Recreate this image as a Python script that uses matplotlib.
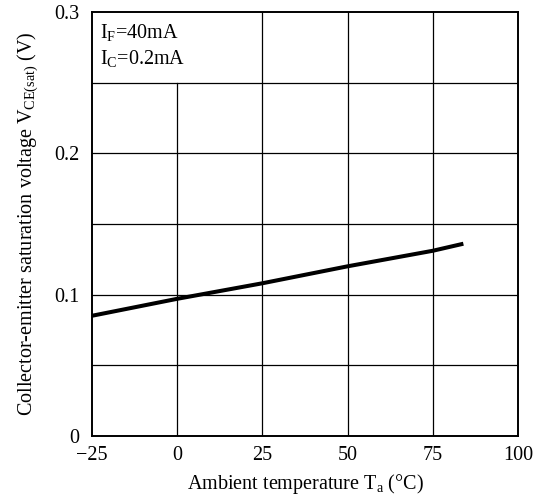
import numpy as np
import matplotlib.pyplot as plt

plt.rcParams['font.family'] = ['Liberation Serif', 'DejaVu Serif']
plt.rcParams['mathtext.fontset'] = 'custom'
plt.rcParams['mathtext.rm'] = 'Liberation Serif'
plt.rcParams['mathtext.it'] = 'Liberation Serif'

# data
temps = [-25, 0, 25, 50, 75, 84]
vce_sat = [0.085, 0.097, 0.108, 0.120, 0.131, 0.136]

x_ticks = [-25, 0, 25, 50, 75, 100]
x_labels = ['\u221225', '0', '25', '50', '75', '100']
y_ticks = [0, 0.1, 0.2, 0.3]
y_labels = ['0', '0.1', '0.2', '0.3']
y_grid = [0.05, 0.1, 0.15, 0.2, 0.25]

fs = 14.5

fig = plt.figure(figsize=(5.44, 5.01), dpi=100)
ax = fig.add_axes([0.169, 0.13, 0.783, 0.846])
ax.set_xlim(-25, 100)
ax.set_ylim(0, 0.3)

# grid, x=0 line stops under the condition box
for xv in x_ticks[1:-1]:
    top = 0.25 if xv == 0 else 0.3
    ax.plot([xv, xv], [0, top], color='black', lw=0.9, zorder=1)
for yv in y_grid:
    ax.plot([-25, 100], [yv, yv], color='black', lw=0.9, zorder=1)

ax.plot(temps, vce_sat, color='black', lw=2.9, solid_capstyle='butt', zorder=3)

ax.text(-22.5, 0.2855, r'$\mathrm{I_F}$=40mA', fontsize=fs, va='center')
ax.text(-22.5, 0.2668, r'$\mathrm{I_C}$=0.2mA', fontsize=fs, va='center')

ax.set_xticks(x_ticks)
ax.set_xticklabels(x_labels, fontsize=fs)
ax.set_yticks(y_ticks)
ax.set_yticklabels(y_labels, fontsize=fs)
ax.tick_params(axis='x', length=0, pad=7)
ax.tick_params(axis='y', length=0, pad=9)
for s in ax.spines.values():
    s.set_linewidth(1.4)

ax.set_xlabel(r'Ambient temperature $\mathrm{T_a}$ (°C)', fontsize=fs, labelpad=5)
ax.set_ylabel(r'Collector-emitter saturation voltage $\mathrm{V_{CE(sat)}}$ (V)', fontsize=fs, labelpad=10)

fig.savefig('out.png', dpi=100)
